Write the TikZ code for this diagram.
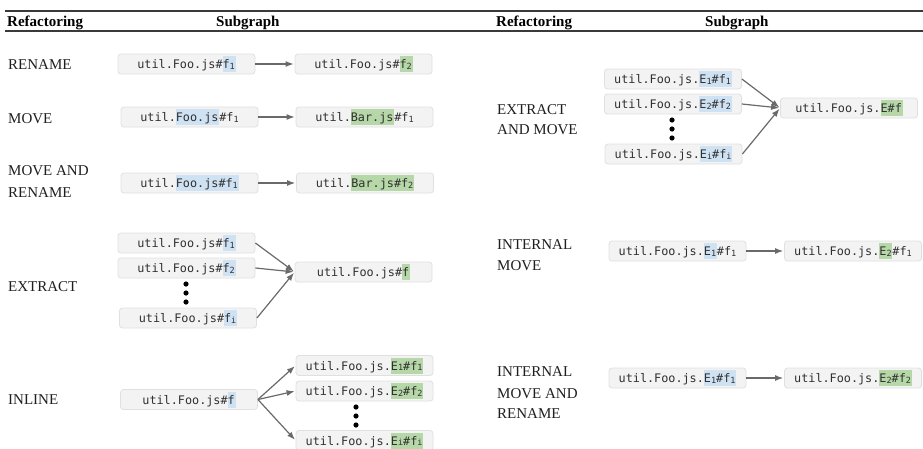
\documentclass[tikz,border=0pt]{standalone}
\usepackage{fontspec}
\setmainfont{Liberation Serif}
\newfontfamily\codefont{DejaVu Sans Mono}
\usetikzlibrary{arrows.meta}

\definecolor{boxfill}{HTML}{F3F3F3}
\definecolor{boxline}{HTML}{E0E0E0}
\definecolor{hlblue}{HTML}{CFE2F3}
\definecolor{hlgreen}{HTML}{B6D7A8}
\definecolor{arrowgray}{HTML}{6A6A6A}
\definecolor{codegray}{HTML}{303030}
\definecolor{rulegray}{HTML}{3A3A3A}

% small index after an identifier
\newcommand\subx[1]{\raisebox{-0.6pt}{\fontsize{8.5}{9}\selectfont #1}}
% highlighted parts of a path
\newcommand\hb[1]{{\setlength\fboxsep{0pt}\colorbox{hlblue}{\rule[-3.5pt]{0pt}{16pt}#1\hspace{0.8pt}}}}
\newcommand\hg[1]{{\setlength\fboxsep{0pt}\colorbox{hlgreen}{\rule[-3.5pt]{0pt}{16pt}#1\hspace{0.8pt}}}}

\tikzset{
  codebox/.style={draw=boxline, fill=boxfill, line width=0.8pt, rounded corners=3pt,
    minimum width=137pt, minimum height=20pt, inner sep=0pt,
    font=\codefont\fontsize{11.8}{14}\selectfont, text=codegray},
  arr/.style={draw=arrowgray, line width=1.2pt, -{Latex[length=8pt,width=6pt]}, shorten >=1pt},
  lbl/.style={anchor=base west, inner sep=0pt, font=\fontsize{15}{18}\selectfont, text=black!88},
  head/.style={anchor=base west, inner sep=0pt, font=\bfseries\fontsize{15}{18}\selectfont},
  vdot/.style={circle, fill=black, inner sep=0pt, minimum size=5.2pt},
}

\begin{document}
\begin{tikzpicture}[x=1pt, y=-1pt]
\clip (0,0) rectangle (923,448);
\fill[white] (0,0) rectangle (923,448);

% table rules and headers
\draw[rulegray, line width=1.2pt] (5,11) -- (923,11);
\draw[rulegray, line width=1.2pt] (5,31) -- (923,31);
\node[head] (hRefL) at (7,26) {Refactoring};
\node[head] (hSubL) at (216,26) {Subgraph};
\node[head] (hRefR) at (496,26) {Refactoring};
\node[head] (hSubR) at (705,26) {Subgraph};

% ---------- left column ----------
\node[lbl] (lRename) at (8,69) {RENAME};
\node[codebox] (a1) at (186.5,64) {util.Foo.js\#\hb{f\subx1}};
\node[codebox] (b1) at (363.5,64) {util.Foo.js\#\hg{f\subx2}};
\draw[arr] (a1) -- (b1);

\node[lbl] (lMove) at (8,123) {MOVE};
\node[codebox] (a2) at (189.5,117) {util.\hb{Foo.js}\#f\subx1};
\node[codebox] (b2) at (364.5,117) {util.\hg{Bar.js}\#f\subx1};
\draw[arr] (a2) -- (b2);

\node[lbl] (lMoveRen1) at (8,175) {MOVE AND};
\node[lbl] (lMoveRen2) at (8,197) {RENAME};
\node[codebox] (a3) at (189.5,183) {util.\hb{Foo.js\#f\subx1}};
\node[codebox] (b3) at (365,183) {util.\hg{Bar.js\#f\subx2}};
\draw[arr] (a3) -- (b3);

\node[lbl] (lExtract) at (8,291) {EXTRACT};
\node[codebox] (e1) at (186.5,243) {util.Foo.js\#\hb{f\subx1}};
\node[codebox] (e2) at (186.5,268) {util.Foo.js\#\hb{f\subx2}};
\node[vdot] (ed1) at (186,284) {};
\node[vdot] (ed2) at (186,293) {};
\node[vdot] (ed3) at (186,302) {};
\node[codebox] (ei) at (188,318) {util.Foo.js\#\hb{f\subx i}};
\node[codebox] (et) at (363.5,272) {util.Foo.js\#\hg{f}};
\draw[arr] (e1.east) -- (et.west);
\draw[arr] (e2.east) -- (et.west);
\draw[arr] (ei.east) -- (et.west);

\node[lbl] (lInline) at (8,404) {INLINE};
\node[codebox] (src) at (189,399.5) {util.Foo.js\#\hb{f}};
\node[codebox] (t1) at (364.5,365.5) {util.Foo.js.\hg{E\subx1\#f\subx1}};
\node[codebox] (t2) at (364.5,391) {util.Foo.js.\hg{E\subx2\#f\subx2}};
\node[vdot] (id1) at (356,407) {};
\node[vdot] (id2) at (356,416) {};
\node[vdot] (id3) at (356,425) {};
\node[codebox] (ti) at (364.5,440.5) {util.Foo.js.\hg{E\subx i\#f\subx i}};
\draw[arr] (src.east) -- (t1.west);
\draw[arr] (src.east) -- (t2.west);
\draw[arr] (src.east) -- (ti.west);

% ---------- right column ----------
\node[lbl] (lExMove1) at (497,114) {EXTRACT};
\node[lbl] (lExMove2) at (497,134) {AND MOVE};
\node[codebox] (m1) at (673,79) {util.Foo.js.\hb{E\subx1\#f\subx1}};
\node[codebox] (m2) at (673,104) {util.Foo.js.\hb{E\subx2\#f\subx2}};
\node[vdot] (md1) at (672,120) {};
\node[vdot] (md2) at (672,129) {};
\node[vdot] (md3) at (672,138) {};
\node[codebox] (mi) at (673.5,154) {util.Foo.js.\hb{E\subx i\#f\subx i}};
\node[codebox] (mt) at (849,108) {util.Foo.js.\hg{E\#f}};
\draw[arr] (m1.east) -- (mt.west);
\draw[arr] (m2.east) -- (mt.west);
\draw[arr] (mi.east) -- (mt.west);

\node[lbl] (lIntMove1) at (497,249) {INTERNAL};
\node[lbl] (lIntMove2) at (497,270) {MOVE};
\node[codebox] (n1) at (677.5,251) {util.Foo.js.\hb{E\subx1}\#f\subx1};
\node[codebox] (n2) at (853,251) {util.Foo.js.\hg{E\subx2}\#f\subx1};
\draw[arr] (n1) -- (n2);

\node[lbl] (lIntRen1) at (497,376) {INTERNAL};
\node[lbl] (lIntRen2) at (497,398) {MOVE AND};
\node[lbl] (lIntRen3) at (497,418) {RENAME};
\node[codebox] (r1) at (677.5,378) {util.Foo.js.\hb{E\subx1\#f\subx1}};
\node[codebox] (r2) at (853,378) {util.Foo.js.\hg{E\subx2\#f\subx2}};
\draw[arr] (r1) -- (r2);
\end{tikzpicture}
\end{document}
